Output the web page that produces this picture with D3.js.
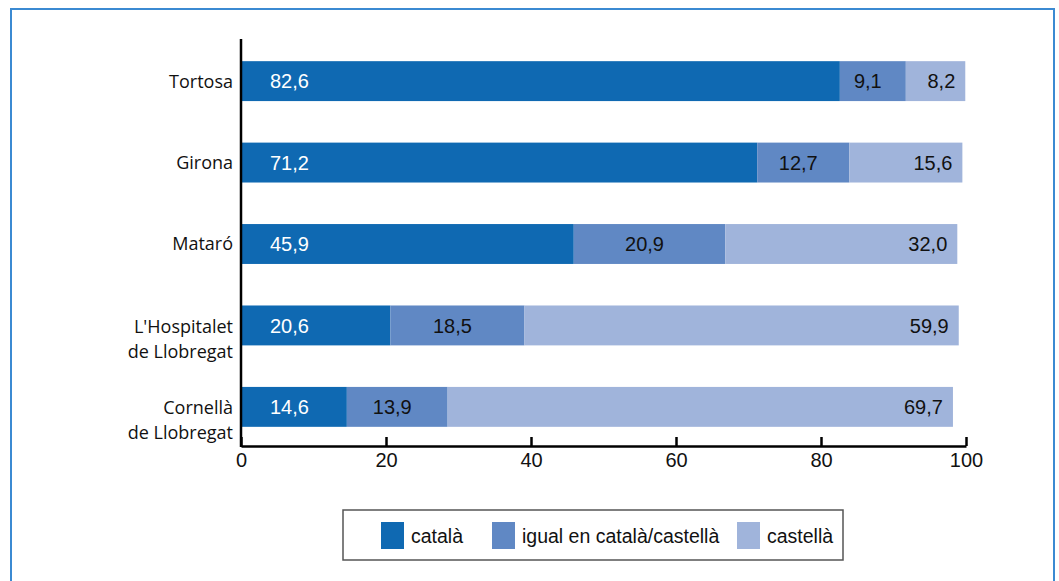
<!DOCTYPE html>
<html><head><meta charset="utf-8">
<script src="https://cdn.jsdelivr.net/npm/d3@7/dist/d3.min.js"></script>
<style>
html,body{margin:0;padding:0;background:#fff;}
svg{display:block;}
</style></head>
<body><svg id="c" width="1059" height="581"></svg>
<script>
const cities = ["Tortosa", "Girona", "Mataró", "L'Hospitalet\nde Llobregat", "Cornellà\nde Llobregat"];
const series = ["català", "igual en català/castellà", "castellà"];
const catala = [82.6, 71.2, 45.9, 20.6, 14.6];
const igual = [9.1, 12.7, 20.9, 18.5, 13.9];
const castella = [8.2, 15.6, 32.0, 59.9, 69.7];
const ticks = [0, 20, 40, 60, 80, 100];
const colors = ["#0f69b2", "#6088c4", "#a0b4db"];

const svg = d3.select("#c");
// frame
svg.append("rect").attr("x", 11).attr("y", 9).attr("width", 1043).attr("height", 600)
  .attr("fill", "none").attr("stroke", "#3b8ad2").attr("stroke-width", 2);

const x = d3.scaleLinear().domain([0, 100]).range([241, 966]);
const y = d3.scaleBand().domain(cities).range([40, 448]).paddingInner(0.51).paddingOuter(0.26);

const data = cities.map((c, i) => {
  const vals = [catala[i], igual[i], castella[i]];
  let acc = 0;
  return vals.map((v, k) => { const s = {city: c, k, v, x0: acc, x1: acc + v}; acc += v; return s; });
});

const g = svg.append("g");
data.forEach(row => {
  row.forEach(s => {
    g.append("rect").attr("x", x(s.x0)).attr("y", y(s.city))
      .attr("width", x(s.x1) - x(s.x0)).attr("height", y.bandwidth())
      .attr("fill", colors[s.k]);
    const t = g.append("text").attr("y", y(s.city) + y.bandwidth() / 2).attr("dy", "0.36em")
      .attr("font-family", "Liberation Sans, Arial, sans-serif").attr("font-size", 20)
      .text(d3.format(".1f")(s.v).replace(".", ","));
    if (s.k === 0) t.attr("x", x(s.x0) + 29).attr("fill", "#fff");
    else if (s.k === 1) t.attr("x", (x(s.x0) + x(s.x1)) / 2 - 5).attr("text-anchor", "middle").attr("fill", "#111");
    else t.attr("x", x(s.x1) - 10).attr("text-anchor", "end").attr("fill", "#111");
  });
});

// category labels
cities.forEach(c => {
  const lines = c.split("\n");
  const cy = y(c) + y.bandwidth() / 2;
  const t = svg.append("text").attr("text-anchor", "end").attr("x", 233)
    .attr("font-family", "Open Sans, Noto Sans, sans-serif").attr("font-size", 18).attr("fill", "#111");
  lines.forEach((l, i) => {
    t.append("tspan").attr("x", 233).attr("y", cy + (lines.length === 1 ? 0 : 1) + i * 25).attr("dy", "0.36em").text(l);
  });
});

// axes
const axG = svg.append("g").attr("transform", "translate(0,446)");
const ax = d3.axisBottom(x).tickValues(ticks).tickSize(-9).tickPadding(19).tickSizeOuter(0);
axG.call(ax);
axG.select(".domain").attr("stroke", "#000").attr("stroke-width", 2.5);
axG.selectAll(".tick line").attr("stroke", "#000").attr("stroke-width", 2.5);
axG.selectAll(".tick text").attr("font-family", "Liberation Sans, Arial, sans-serif").attr("font-size", 20).attr("fill", "#111").attr("dy", "0.1em");
svg.append("line").attr("x1", x(0)).attr("x2", x(0)).attr("y1", 39).attr("y2", 447)
  .attr("stroke", "#000").attr("stroke-width", 2.5);

// legend
svg.append("rect").attr("x", 343).attr("y", 510).attr("width", 500).attr("height", 50)
  .attr("fill", "#fff").attr("stroke", "#555").attr("stroke-width", 1.5);
const lx = [381, 492, 737];
series.forEach((s, i) => {
  svg.append("rect").attr("x", lx[i]).attr("y", 522).attr("width", 23).attr("height", 27).attr("fill", colors[i]);
  svg.append("text").attr("x", lx[i] + 30).attr("y", 543)
    .attr("font-family", "Liberation Sans, Arial, sans-serif").attr("font-size", 19.5).attr("fill", "#111").text(s);
});
</script></body></html>
